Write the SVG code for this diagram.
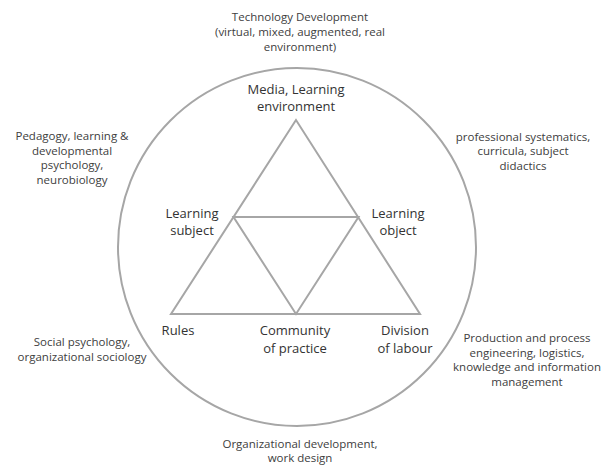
<svg xmlns="http://www.w3.org/2000/svg" width="616" height="466" viewBox="0 0 616 466">
<style>
.ln{fill:none;stroke:#a6a6a6;stroke-width:2}
.o{font-family:"Open Sans","Liberation Sans",sans-serif;font-size:11.5px;fill:#404040;text-anchor:middle}
.n{font-family:"Open Sans","Liberation Sans",sans-serif;font-size:13px;fill:#333;text-anchor:middle}
</style>
<rect width="616" height="466" fill="#fff"/>
<g id="connectors">
<circle class="ln" cx="297" cy="247" r="179"/>
<polygon class="ln" points="296,120 171,314 420,314"/>
<polygon class="ln" points="233.5,217 358.5,217 296,314"/>
</g>
<g id="tech"><text class="o" x="300" y="21">Technology Development</text><text class="o" x="300" y="36">(virtual, mixed, augmented, real</text><text class="o" x="300" y="51">environment)</text></g>
<g id="media"><text class="n" x="296" y="94">Media, Learning</text><text class="n" x="296" y="111">environment</text></g>
<g id="pedagogy"><text class="o" x="72" y="140">Pedagogy, learning &amp;</text><text class="o" x="72" y="155">developmental</text><text class="o" x="72" y="169">psychology,</text><text class="o" x="72" y="184">neurobiology</text></g>
<g id="professional"><text class="o" x="523" y="141">professional systematics,</text><text class="o" x="523" y="155">curricula, subject</text><text class="o" x="523" y="170">didactics</text></g>
<g id="subject"><text class="n" x="192" y="218">Learning</text><text class="n" x="192" y="235">subject</text></g>
<g id="object"><text class="n" x="398" y="218">Learning</text><text class="n" x="398" y="235">object</text></g>
<g id="rules"><text class="n" x="178" y="335">Rules</text></g>
<g id="community"><text class="n" x="295" y="335">Community</text><text class="n" x="295" y="353">of practice</text></g>
<g id="division"><text class="n" x="405" y="335">Division</text><text class="n" x="405" y="353">of labour</text></g>
<g id="social"><text class="o" x="82" y="346">Social psychology,</text><text class="o" x="82" y="361">organizational sociology</text></g>
<g id="production"><text class="o" x="527" y="342">Production and process</text><text class="o" x="527" y="357">engineering, logistics,</text><text class="o" x="527" y="371">knowledge and information</text><text class="o" x="527" y="386">management</text></g>
<g id="orgdev"><text class="o" x="300" y="448">Organizational development,</text><text class="o" x="300" y="462">work design</text></g>
</svg>
